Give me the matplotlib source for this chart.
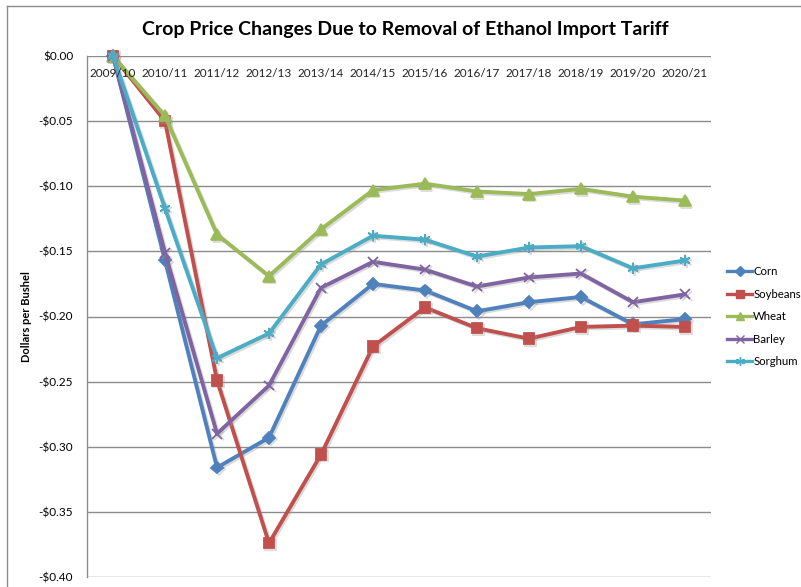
import matplotlib
matplotlib.use("Agg")
import matplotlib.pyplot as plt
import matplotlib.patheffects as pe
from matplotlib.lines import Line2D
from matplotlib.ticker import FuncFormatter

years = ["2009/10", "2010/11", "2011/12", "2012/13", "2013/14", "2014/15",
         "2015/16", "2016/17", "2017/18", "2018/19", "2019/20", "2020/21"]

corn = [0.0, -0.157, -0.316, -0.293, -0.207, -0.175, -0.180, -0.196, -0.189, -0.185, -0.206, -0.202]
soybeans = [0.0, -0.050, -0.249, -0.374, -0.306, -0.223, -0.193, -0.209, -0.217, -0.208, -0.207, -0.208]
wheat = [0.0, -0.046, -0.137, -0.169, -0.133, -0.103, -0.098, -0.104, -0.106, -0.102, -0.108, -0.111]
barley = [0.0, -0.151, -0.290, -0.253, -0.178, -0.158, -0.164, -0.177, -0.170, -0.167, -0.189, -0.183]
sorghum = [0.0, -0.117, -0.232, -0.213, -0.160, -0.138, -0.141, -0.154, -0.147, -0.146, -0.163, -0.157]

series = [
    ("Corn", corn, "#4F81BD", "D", 6),
    ("Soybeans", soybeans, "#C0504D", "s", 7.5),
    ("Wheat", wheat, "#9BBB59", "^", 8),
    ("Barley", barley, "#8064A2", "x", 7),
    ("Sorghum", sorghum, "#4BACC6", (6, 2, 0), 8),
]

plt.rcParams["font.family"] = ["Lato", "DejaVu Sans"]

fig = plt.figure(figsize=(8.01, 5.87), dpi=100)
ax = fig.add_axes([87 / 801, 1 - 577 / 587, (711 - 87) / 801, (577 - 56) / 587])

x = list(range(len(years)))
shadow = [pe.SimpleLineShadow(offset=(1.2, -1.2), shadow_color="#999999", alpha=0.35),
          pe.Normal()]
for name, vals, color, marker, ms in series:
    ax.plot(x, vals, color=color, lw=2.8, marker=marker, markersize=ms,
            markeredgecolor=color, markerfacecolor=color, markeredgewidth=1.3,
            label=name, path_effects=shadow, zorder=3, clip_on=False)

ax.set_xlim(-0.5, len(years) - 0.5)
ax.set_ylim(-0.40, 0.0)
ax.set_yticks([0.0, -0.05, -0.10, -0.15, -0.20, -0.25, -0.30, -0.35, -0.40])
ax.yaxis.set_major_formatter(FuncFormatter(
    lambda v, p: "$0.00" if abs(v) < 1e-9 else ("-$%.2f" % abs(v))))
ax.grid(axis="y", color="#8c8c8c", lw=1.0)
ax.set_axisbelow(True)
for s in ["top", "right", "bottom"]:
    ax.spines[s].set_visible(False)
ax.spines["left"].set_color("#8c8c8c")
ax.spines["left"].set_linewidth(1.0)
ax.tick_params(axis="y", length=0, pad=10, labelsize=8.5)
ax.set_xticks([])

# Category labels sit just under the zero line
for xi, lab in zip(x, years):
    ax.text(xi, -0.0135, lab, ha="center", va="center", fontsize=8.5, color="#222222")

ax.set_ylabel("Dollars per Bushel", fontsize=8, fontweight="bold", labelpad=5)

fig.text(0.5 * (87 + 711) / 801 + 0.008, 1 - 29 / 587,
         "Crop Price Changes Due to Removal of Ethanol Import Tariff",
         ha="center", va="center", fontsize=14, fontweight="bold")

handles = []
for name, vals, color, marker, ms in series:
    handles.append(Line2D([], [], color=color, lw=2.4, marker=marker,
                          markersize=ms * 0.8, markeredgecolor=color,
                          markerfacecolor=color, label=name))
fig.legend(handles=handles, loc="upper left",
           bbox_to_anchor=(727 / 801, 1 - 266 / 587), frameon=False,
           fontsize=8.2, handlelength=2.2, handletextpad=0.1,
           labelspacing=1.02, borderaxespad=0, borderpad=0)

# Outer chart border
fig.add_artist(Line2D([7 / 801, 7 / 801], [0, 1 - 6 / 587], color="#8c8c8c", lw=1.0,
                      transform=fig.transFigure))
fig.add_artist(Line2D([7 / 801, 1], [1 - 6 / 587, 1 - 6 / 587], color="#8c8c8c", lw=1.0,
                      transform=fig.transFigure))

fig.savefig("out.png", dpi=100)
